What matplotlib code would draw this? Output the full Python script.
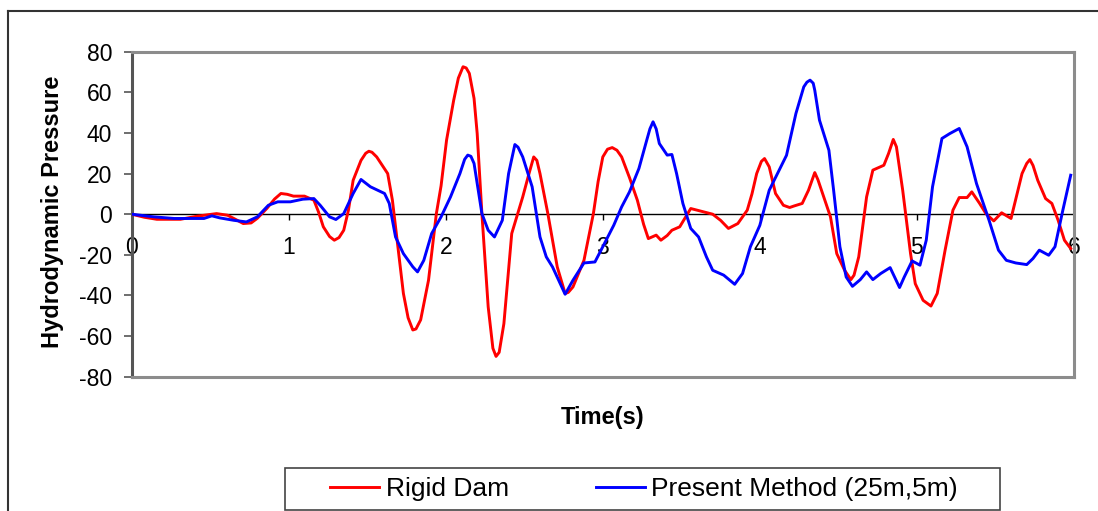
"""Hydrodynamic pressure time history: rigid dam vs present method."""

import matplotlib
matplotlib.use("Agg")
import matplotlib.pyplot as plt
from matplotlib.lines import Line2D
from matplotlib.patches import Rectangle

plt.rcParams['font.family'] = ['Liberation Sans', 'DejaVu Sans']
plt.rcParams['axes.unicode_minus'] = False

# Rigid dam response
rigid_t = [0.00, 0.08, 0.16, 0.31, 0.415, 0.54, 0.61, 0.66, 0.71, 0.76, 0.80, 0.86,
           0.91, 0.95, 0.99, 1.03, 1.10, 1.16, 1.19, 1.22, 1.26, 1.29, 1.32, 1.35,
           1.38, 1.41, 1.46, 1.49, 1.51, 1.53, 1.56, 1.63, 1.66, 1.69, 1.73, 1.76,
           1.79, 1.81, 1.84, 1.89, 1.94, 1.97, 2.005, 2.05, 2.08, 2.11, 2.13, 2.15,
           2.18, 2.20, 2.23, 2.27, 2.30, 2.32, 2.34, 2.37, 2.42, 2.49, 2.53, 2.56,
           2.58, 2.60, 2.65, 2.71, 2.76, 2.78, 2.81, 2.88, 2.94, 2.97, 3.00, 3.03,
           3.06, 3.09, 3.12, 3.17, 3.22, 3.26, 3.29, 3.34, 3.37, 3.41, 3.44, 3.49,
           3.53, 3.56, 3.62, 3.70, 3.75, 3.80, 3.86, 3.92, 3.95, 3.98, 4.01, 4.03,
           4.06, 4.10, 4.15, 4.19, 4.22, 4.27, 4.31, 4.35, 4.37, 4.40, 4.45, 4.49,
           4.54, 4.58, 4.60, 4.63, 4.68, 4.72, 4.79, 4.82, 4.85, 4.87, 4.91, 4.96,
           4.99, 5.04, 5.09, 5.13, 5.18, 5.23, 5.27, 5.32, 5.35, 5.40, 5.44, 5.49,
           5.54, 5.60, 5.67, 5.70, 5.72, 5.74, 5.77, 5.82, 5.86, 5.90, 5.94, 5.98]
rigid_p = [0, -1.5, -2.5, -2.5, -1, 0.3, -0.5, -2.5, -4.6, -4.3, -2, 2.8,
           7.5, 10.2, 9.8, 8.9, 8.9, 6.9, 1, -6.2, -11, -12.8, -11.5, -7.9,
           2, 16.7, 26.5, 30, 31, 30.5, 28.2, 20, 6.9, -12.8, -39, -51,
           -57, -56.5, -52, -32.5, 0.3, 14, 36.5, 56, 67, 72.6, 72, 69.3,
           57, 39.7, 0.3, -45.6, -66, -70, -68, -53.9, -9.5, 8.5, 20, 28.2,
           26.5, 20, 0.3, -26, -39, -38.5, -35.8, -22.7, 0.3, 16, 28.2, 32,
           32.8, 31.5, 28.2, 18, 6.9, -5, -12, -10.3, -12.8, -10.5, -7.9, -6.2,
           -1, 2.8, 1.6, 0, -3, -7, -4.6, 2, 10, 20, 26, 27.4,
           23.3, 10.2, 4.4, 3.3, 4.1, 5.3, 11.8, 20.5, 17, 10.2, -1.3, -19.4,
           -27.6, -32.2, -30, -21, 8.5, 21.7, 24.1, 29.9, 36.8, 33.2, 11.8, -19.4,
           -34.2, -42.4, -45.2, -39, -17.7, 2, 8.2, 8.2, 11, 5.3, 0.3, -3.3,
           0.7, -2.1, 20, 25, 26.9, 24, 16.7, 7.7, 5.3, -3, -12.8, -16.9]

# Present method (25m,5m)
present_t = [0.00, 0.14, 0.27, 0.35, 0.46, 0.51, 0.56, 0.65, 0.73, 0.80, 0.87, 0.93,
             1.01, 1.09, 1.16, 1.20, 1.26, 1.30, 1.35, 1.41, 1.46, 1.52, 1.61, 1.64,
             1.68, 1.73, 1.79, 1.82, 1.86, 1.91, 1.97, 2.03, 2.09, 2.12, 2.14, 2.16,
             2.18, 2.23, 2.27, 2.31, 2.36, 2.40, 2.44, 2.46, 2.49, 2.55, 2.60, 2.64,
             2.68, 2.76, 2.81, 2.88, 2.95, 3.00, 3.07, 3.12, 3.17, 3.23, 3.28, 3.30,
             3.32, 3.34, 3.36, 3.41, 3.44, 3.47, 3.51, 3.56, 3.61, 3.66, 3.70, 3.77,
             3.84, 3.89, 3.94, 4.00, 4.06, 4.17, 4.23, 4.28, 4.30, 4.32, 4.34, 4.35,
             4.38, 4.44, 4.47, 4.51, 4.55, 4.59, 4.64, 4.68, 4.72, 4.77, 4.83, 4.89,
             4.92, 4.97, 5.02, 5.06, 5.10, 5.16, 5.21, 5.27, 5.32, 5.38, 5.46, 5.52,
             5.57, 5.63, 5.70, 5.74, 5.78, 5.84, 5.88, 5.93, 5.98]
present_p = [0, -1.3, -2.1, -2.1, -2.1, -0.8, -1.8, -3, -3.8, -1.3, 4.4, 6.1,
             6.1, 7.4, 7.7, 4.4, -1.3, -2.6, 0.3, 10.2, 17.1, 13.5, 10.2, 5.3,
             -11.2, -19.4, -25.9, -28.4, -22.7, -9.5, -1.3, 8.5, 20, 27, 29.1, 28.5,
             25, 0.3, -7.9, -11.2, -3, 20, 34.3, 33, 28.2, 13.5, -11.2, -21,
             -26, -39.4, -32.5, -24, -23.5, -16, -5.4, 3.6, 11, 22.5, 36.5, 42,
             45.5, 42, 34.8, 29.1, 29.4, 20, 5.3, -7, -11.2, -21, -27.6, -30,
             -34.5, -29.2, -16, -5.5, 11.8, 29, 49.6, 62.7, 65, 66, 64.5, 61,
             46.3, 31.5, 11.8, -16, -30.9, -35.5, -32.2, -28.4, -32.2, -29.2, -26.3, -36.1,
             -30.9, -23, -25.1, -12.8, 13.5, 37.3, 39.7, 42.2, 33.2, 15.1, -3, -17.7,
             -22.7, -24, -24.8, -21.8, -17.7, -20.2, -16, 2, 19.2]

x_ticks = [0, 1, 2, 3, 4, 5, 6]
y_ticks = [-80, -60, -40, -20, 0, 20, 40, 60, 80]


def plot_pressure(save_path="out.png"):
    fig = plt.figure(figsize=(10.98, 5.11), dpi=100)
    ax = fig.add_axes([0.12, 0.2628, 0.858, 0.636])

    ax.plot(rigid_t, rigid_p, color="#FF0000", linewidth=2.1,
            solid_joinstyle="round", label="Rigid Dam", zorder=3)
    ax.plot(present_t, present_p, color="#0000FF", linewidth=2.1,
            solid_joinstyle="round", label="Present Method (25m,5m)", zorder=4)

    ax.set_xlim(0, 6)
    ax.set_ylim(-80, 80)
    ax.set_xticks([])
    ax.set_yticks(y_ticks)
    ax.tick_params(axis="y", direction="out", length=6, width=1.2,
                   color="#555555", pad=8, labelsize=16.5)

    for side in ["top", "right", "bottom"]:
        ax.spines[side].set_color("#8c8c8c")
        ax.spines[side].set_linewidth(2.2)
    ax.spines["left"].set_color("#555555")
    ax.spines["left"].set_linewidth(2.2)

    # time axis crosses at zero pressure
    sec = ax.secondary_xaxis(0.5)
    sec.set_xticks(x_ticks)
    sec.xaxis.set_ticks_position("bottom")
    sec.xaxis.set_label_position("bottom")
    sec.tick_params(axis="x", direction="out", length=4, width=1.0,
                    color="black", pad=11.5, labelsize=16.5,
                    bottom=True, top=False, labelbottom=True, labeltop=False)
    for side in ["top", "bottom"]:
        sec.spines[side].set_color("black")
        sec.spines[side].set_linewidth(1.0)

    fig.text(0.549, 0.182, "Time(s)", ha="center", va="center",
             fontsize=17, fontweight="bold")
    fig.text(0.0474, 0.585, "Hydrodynamic Pressure", ha="center", va="center",
             rotation=90, fontsize=17, fontweight="bold")

    # outer chart frame
    fig.add_artist(Line2D([0.0073, 0.0073], [0.0, 0.9785], color="#333333",
                          linewidth=1.5, transform=fig.transFigure))
    fig.add_artist(Line2D([0.0073, 1.0], [0.9785, 0.9785], color="#333333",
                          linewidth=1.5, transform=fig.transFigure))

    # legend box
    fig.add_artist(Rectangle((0.2596, 0.002), 0.651, 0.082, fill=False,
                             edgecolor="#444444", linewidth=1.2,
                             transform=fig.transFigure))
    fig.legend(loc="center", bbox_to_anchor=(0.5865, 0.043), ncol=2,
               frameon=False, fontsize=19, handlelength=1.86,
               handletextpad=0.23, columnspacing=3.3, borderpad=0)

    plt.savefig(save_path, dpi=100)
    plt.close()


if __name__ == "__main__":
    plot_pressure()
